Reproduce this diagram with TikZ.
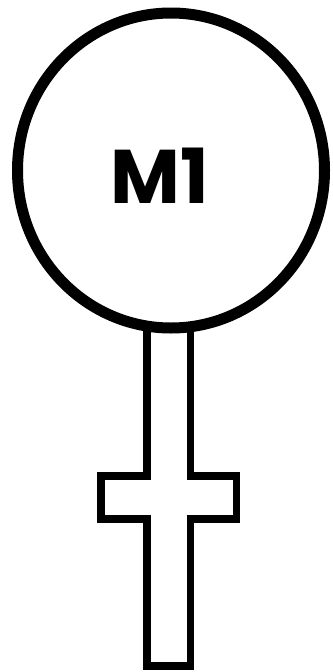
\documentclass[tikz,border=0pt]{standalone}
\usepackage{fontspec}
\newfontfamily\signfont{Poppins}
\usetikzlibrary{shapes.geometric}

\begin{document}
\begin{tikzpicture}[x=1pt,y=-1pt,
  head/.style={draw,ellipse,line width=11pt,fill=white,inner sep=0pt,minimum width=307pt,minimum height=315pt},
  stem/.style={draw,line width=7.5pt,miter limit=10,fill=white}]
  \useasboundingbox (0,0) rectangle (332,672);
  % cross under the head
  \draw[stem] (147,300) -- (147,475.8) -- (101.2,475.8) -- (101.2,518.8) -- (147,518.8) -- (147,666)
    -- (190.5,666) -- (190.5,518.8) -- (236.5,518.8) -- (236.5,475.8) -- (190.5,475.8) -- (190.5,300);
  \node[head] (marker) at (171,170.5) {};
  \node[font=\signfont\fontsize{76}{76}\bfseries] (name) at (160,175.5) {M1};
\end{tikzpicture}
\end{document}
